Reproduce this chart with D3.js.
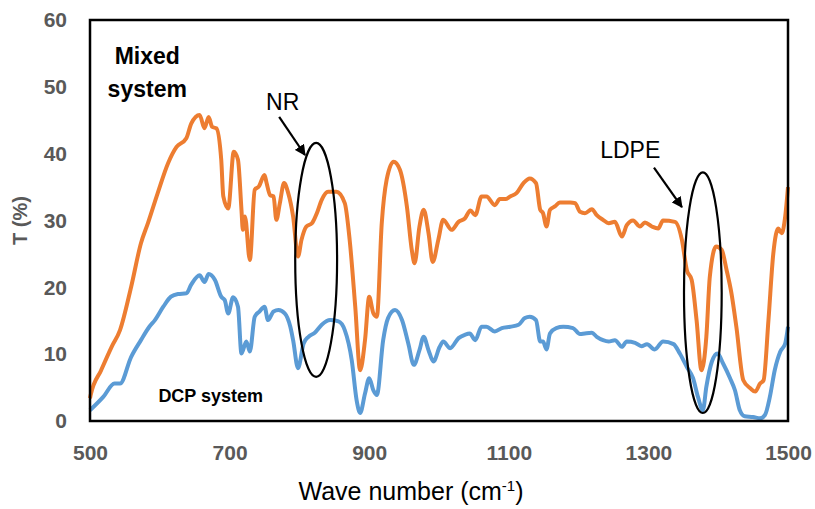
<!DOCTYPE html>
<html>
<head>
<meta charset="utf-8">
<script src="https://cdn.jsdelivr.net/npm/d3@7"></script>
<style>
  body { margin: 0; background: #fff; }
  svg { display: block; font-family: "Liberation Sans", Arial, sans-serif; }
</style>
</head>
<body>
<svg id="chart" width="815" height="509"></svg>
<script>
// wave number (cm-1), T (%)
const mixedSystem = [
  [500, 3.4], [501, 3.9], [516, 7.6], [531, 11.1], [543, 13.6], [559, 20.1], [573, 26.6],
  [583, 29.6], [597, 34.1], [612, 38.6], [624, 41.0], [638, 42.3], [645, 44.5], [657, 45.8],
  [664, 43.8], [670, 45.5], [675, 44.0], [681, 43.8], [688, 39.1], [691, 33.6], [698, 31.8],
  [706, 40.3], [712, 39.1], [717, 31.6], [719, 28.6], [722, 30.6], [729, 24.1], [736, 34.6],
  [742, 35.1], [750, 36.8], [753, 35.6], [758, 33.8], [763, 33.6], [767, 30.1], [772, 32.6],
  [778, 35.6], [784, 34.1], [791, 30.6], [798, 24.6], [803, 27.1], [810, 29.1], [818, 29.6],
  [825, 31.1], [832, 33.1], [841, 34.3], [853, 34.3], [865, 32.6], [872, 27.1], [880, 17.1],
  [887, 7.6], [894, 12.1], [900, 18.6], [906, 16.1], [911, 15.6], [918, 29.6], [925, 36.1],
  [935, 38.8], [944, 37.6], [954, 32.1], [961, 25.6], [965, 23.6], [972, 29.1], [978, 31.6],
  [985, 28.1], [991, 23.8], [999, 27.1], [1006, 30.1], [1018, 28.6], [1028, 29.8], [1037, 30.3],
  [1045, 31.5], [1052, 30.8], [1061, 33.6], [1068, 33.6], [1080, 32.3], [1087, 33.2], [1095, 33.2],
  [1102, 33.6], [1111, 34.1], [1121, 35.6], [1130, 36.3], [1139, 35.6], [1145, 31.6], [1149, 31.1],
  [1154, 29.1], [1159, 31.6], [1166, 32.1], [1173, 32.7], [1188, 32.7], [1195, 32.6], [1202, 31.3],
  [1209, 31.1], [1219, 31.7], [1226, 30.8], [1235, 30.1], [1243, 29.6], [1252, 29.8], [1262, 27.6],
  [1269, 29.3], [1278, 30.0], [1288, 29.1], [1295, 29.7], [1305, 29.1], [1314, 28.8], [1321, 30.0],
  [1338, 29.8], [1348, 27.1], [1355, 22.6], [1362, 21.1], [1369, 15.1], [1376, 7.6], [1383, 12.6],
  [1388, 21.6], [1397, 26.1], [1405, 25.6], [1412, 22.6], [1419, 19.1], [1426, 14.1], [1436, 6.1],
  [1446, 4.9], [1453, 4.4], [1460, 5.6], [1465, 6.1], [1472, 15.1], [1479, 25.1], [1486, 28.8],
  [1491, 28.1], [1496, 30.6], [1500, 35.0]
];

const dcpSystem = [
  [500, 1.6], [519, 3.6], [535, 5.6], [543, 5.6], [559, 9.6], [573, 12.1], [585, 14.1],
  [593, 15.1], [605, 17.1], [616, 18.6], [626, 19.0], [638, 19.1], [645, 20.4], [657, 21.8],
  [664, 20.8], [670, 22.0], [679, 21.1], [688, 18.6], [693, 18.1], [698, 16.1], [705, 18.5],
  [712, 17.1], [717, 10.1], [724, 11.9], [729, 10.4], [736, 15.6], [743, 16.4], [750, 17.1],
  [755, 15.1], [763, 16.4], [770, 16.6], [779, 16.1], [787, 14.1], [791, 12.1], [798, 7.9],
  [806, 11.6], [813, 12.6], [822, 13.2], [832, 14.4], [844, 15.1], [856, 14.9], [865, 13.6],
  [875, 9.1], [882, 3.1], [887, 1.2], [894, 4.1], [900, 6.4], [906, 4.6], [911, 3.9],
  [920, 12.1], [927, 15.4], [937, 16.6], [947, 15.1], [956, 11.6], [964, 8.4], [972, 10.6],
  [978, 12.6], [985, 10.6], [992, 8.9], [1001, 11.1], [1006, 11.9], [1016, 10.9], [1028, 12.4],
  [1037, 12.9], [1044, 13.1], [1052, 12.1], [1061, 14.1], [1068, 14.1], [1080, 13.4], [1090, 13.9],
  [1102, 14.1], [1114, 14.4], [1123, 15.4], [1130, 15.6], [1139, 15.1], [1145, 11.9], [1149, 11.9],
  [1154, 10.7], [1159, 13.1], [1168, 13.9], [1178, 14.1], [1192, 13.9], [1202, 13.0], [1209, 13.1],
  [1219, 13.2], [1226, 12.6], [1235, 12.1], [1243, 11.9], [1252, 12.1], [1262, 11.1], [1269, 11.9],
  [1281, 11.7], [1290, 11.2], [1298, 11.5], [1309, 10.7], [1321, 11.9], [1336, 11.5], [1345, 10.1],
  [1355, 8.1], [1364, 6.4], [1371, 3.6], [1378, 1.6], [1383, 5.1], [1391, 8.9], [1399, 10.1],
  [1407, 8.6], [1417, 6.4], [1424, 4.6], [1431, 1.6], [1438, 0.7], [1450, 0.6], [1460, 0.4],
  [1467, 0.9], [1474, 3.6], [1481, 7.6], [1489, 10.4], [1496, 11.6], [1500, 14.1]
];

const xTicks = [500, 700, 900, 1100, 1300, 1500];
const yTicks = [0, 10, 20, 30, 40, 50, 60];

// ellipses round the bands: centre, half width (cm-1), half height (%)
const bands = [
  { name: "NR", cx: 824, cy: 24.1, rx: 30, ry: 17.5 },
  { name: "LDPE", cx: 1378, cy: 19.2, rx: 27, ry: 18 }
];
const arrows = [
  { from: [771, 45.5], to: [808, 39.8] },
  { from: [1308, 37.9], to: [1348, 32.0] }
];
const labels = [
  { text: "NR", x: 776, y: 46.5, size: 23, bold: false },
  { text: "LDPE", x: 1274, y: 39.4, size: 23, bold: false },
  { text: "Mixed", x: 582, y: 53.4, size: 23, bold: true },
  { text: "system", x: 582, y: 48.5, size: 23, bold: true },
  { text: "DCP system", x: 673, y: 2.9, size: 18, bold: true }
];

const svg = d3.select("#chart");
const margin = { top: 20, right: 27, bottom: 88, left: 90 };
const W = 815 - margin.left - margin.right;
const H = 509 - margin.top - margin.bottom;

const x = d3.scaleLinear().domain([500, 1500]).range([0, W]);
const y = d3.scaleLinear().domain([0, 60]).range([H, 0]);

const g = svg.append("g").attr("transform", `translate(${margin.left},${margin.top})`);

// axes, labels only
const xAxis = g.append("g")
  .attr("transform", `translate(0,${H})`)
  .call(d3.axisBottom(x).tickValues(xTicks).tickSize(0).tickPadding(24).tickFormat(d3.format("d")));
const yAxis = g.append("g")
  .call(d3.axisLeft(y).tickValues(yTicks).tickSize(0).tickPadding(23));
[xAxis, yAxis].forEach(a => {
  a.select(".domain").remove();
  a.selectAll("text")
    .attr("fill", "#595959")
    .style("font-size", "21px")
    .style("font-weight", "bold")
    .style("font-family", "'Liberation Sans', Arial, sans-serif");
});

const line = d3.line()
  .x(d => x(d[0]))
  .y(d => y(d[1]))
  .curve(d3.curveMonotoneX);

g.append("path").datum(mixedSystem)
  .attr("d", line).attr("fill", "none")
  .attr("stroke", "#ED7D31").attr("stroke-width", 4).attr("stroke-linejoin", "round");
g.append("path").datum(dcpSystem)
  .attr("d", line).attr("fill", "none")
  .attr("stroke", "#5B9BD5").attr("stroke-width", 4).attr("stroke-linejoin", "round");

// plot frame
g.append("rect")
  .attr("width", W).attr("height", H)
  .attr("fill", "none").attr("stroke", "#000").attr("stroke-width", 2.5);

// annotations
svg.append("defs").append("marker")
  .attr("id", "head").attr("viewBox", "0 0 10 10")
  .attr("refX", 9).attr("refY", 5)
  .attr("markerWidth", 5).attr("markerHeight", 5)
  .attr("markerUnits", "strokeWidth")
  .attr("orient", "auto")
  .append("path").attr("d", "M0,0L10,5L0,10z").attr("fill", "#000");

g.selectAll(".band").data(bands).join("ellipse")
  .attr("class", "band")
  .attr("cx", d => x(d.cx)).attr("cy", d => y(d.cy))
  .attr("rx", d => x(d.cx + d.rx) - x(d.cx))
  .attr("ry", d => y(d.cy - d.ry) - y(d.cy))
  .attr("fill", "none").attr("stroke", "#000").attr("stroke-width", 2.2);

g.selectAll(".arrow").data(arrows).join("line")
  .attr("class", "arrow")
  .attr("x1", d => x(d.from[0])).attr("y1", d => y(d.from[1]))
  .attr("x2", d => x(d.to[0])).attr("y2", d => y(d.to[1]))
  .attr("stroke", "#000").attr("stroke-width", 2.2)
  .attr("marker-end", "url(#head)");

g.selectAll(".note").data(labels).join("text")
  .attr("class", "note")
  .attr("x", d => x(d.x)).attr("y", d => y(d.y))
  .attr("text-anchor", "middle")
  .style("font-size", d => d.size + "px")
  .style("font-weight", d => d.bold ? "bold" : "normal")
  .attr("fill", "#000")
  .text(d => d.text);

// axis titles
const xt = svg.append("text")
  .attr("x", 411).attr("y", 500)
  .attr("text-anchor", "middle")
  .style("font-size", "25px")
  .attr("fill", "#000");
xt.append("tspan").text("Wave number (cm");
xt.append("tspan").attr("dy", -9).style("font-size", "15px").text("-1");
xt.append("tspan").attr("dy", 9).text(")");

svg.append("text")
  .attr("transform", `translate(27,${margin.top + H / 2}) rotate(-90)`)
  .attr("text-anchor", "middle")
  .style("font-size", "20px")
  .style("font-weight", "bold")
  .attr("fill", "#595959")
  .text("T (%)");
</script>
</body>
</html>
